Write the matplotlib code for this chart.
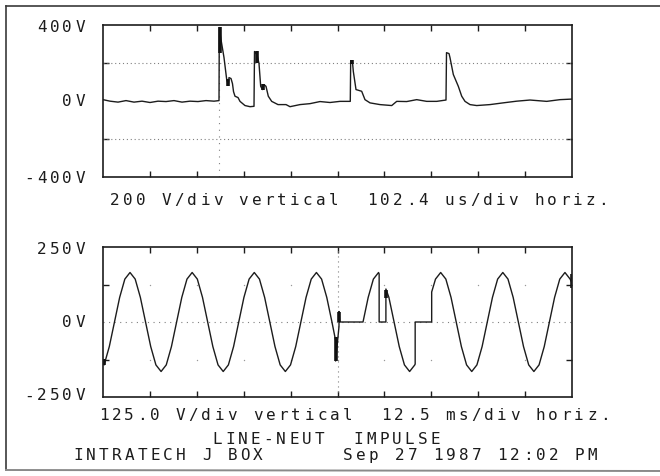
import numpy as np
import matplotlib.pyplot as plt

# Upper record: impulse trace, 102.4 us/div horizontal, 200 V/div vertical
imp_t = [0, 15.3, 32.8, 50.2, 67.7, 85.2, 102.6, 120.1, 137.6, 155.0,
         172.5, 190.0, 207.4, 224.9, 242.4, 253.3, 253.9, 257.6, 262.0, 264.2,
         270.1, 273.6, 275.1, 279.5, 282.7, 285.0, 288.2, 294.8, 299.1, 310.0,
         321.0, 329.7, 330.8, 336.2, 340.6, 344.3, 348.3, 351.5, 355.9, 360.9,
         368.3, 382.1, 399.6, 408.3, 430.1, 452.0, 473.8, 495.6, 517.5, 539.9,
         540.8, 544.8, 546.5, 552.4, 564.8, 572.0, 583.0, 604.8, 630.4, 641.3,
         663.1, 684.9, 706.8, 728.6, 748.9, 750.0, 755.5, 757.6, 764.9, 775.8,
         783.2, 790.4, 801.3, 815.9, 845.0, 873.4, 903.3, 932.3, 968.8, 997.8,
         1024.0]
imp_v = [5, -3, -8, 0, -8, -3, -10, -3, -5, 0,
         -8, -3, -5, 0, -3, 0, 384, 321, 258, 226,
         110, 84, 121, 116, 89, 47, 23, 16, -4, -26,
         -32, -30, 258, 242, 195, 75, 58, 84, 75, 23,
         -4, -21, -21, -32, -21, -16, -5, -10, -4, -4,
         210, 200, 154, 58, 49, 5, -12, -21, -26, -4,
         -5, 5, -4, -4, 3, 252, 247, 226, 137, 75,
         23, -4, -21, -26, -21, -12, -3, 3, -4, 5,
         8]
# dense bursts the recorder printed as heavy strokes (time, low, high)
imp_burst_t = [256, 272, 337, 350, 543]
imp_burst_lo = [250, 75, 200, 55, 195]
imp_burst_hi = [385, 115, 262, 85, 212]
trig_us = 254

# Lower record: line voltage, 12.5 ms/div horizontal, 125 V/div vertical
line_t = [0, 0.30, 1.68, 3.06, 4.44, 5.82, 7.20, 8.58, 9.96, 11.34,
          12.72, 14.10, 15.48, 16.86, 18.24, 19.62, 21.00, 22.38, 23.76, 25.14,
          26.52, 27.90, 29.28, 30.66, 32.04, 33.42, 34.80, 36.18, 37.56, 38.94,
          40.32, 41.70, 43.08, 44.46, 45.84, 47.22, 48.60, 49.98, 51.36, 52.74,
          54.12, 55.50, 56.88, 58.26, 59.64, 61.02,
          62.00, 62.00, 62.90, 62.90, 63.10, 69.30, 70.68, 72.06, 73.44, 73.60,
          73.60, 75.40, 75.40, 76.20, 77.58, 78.96, 80.34, 81.72, 83.10, 83.20,
          83.20, 87.60, 87.60, 88.62, 90.00, 91.38, 92.76, 94.14, 95.52, 96.90,
          98.28, 99.66, 101.04, 102.42, 103.80, 105.18, 106.56, 107.94, 109.32, 110.70,
          112.08, 113.46, 114.84, 116.22, 117.60, 118.98, 120.36, 121.74, 123.12, 124.50,
          125.0]
line_v = [-135, -143, -82, 0, 82, 143, 165, 143, 82, 0,
          -82, -143, -165, -143, -82, 0, 82, 143, 165, 143,
          82, 0, -82, -143, -165, -143, -82, 0, 82, 143,
          165, 143, 82, 0, -82, -143, -165, -143, -82, 0,
          82, 143, 165, 143, 82, 0,
          -62, -130, -15, 35, 0, 0, 82, 143, 165, 160,
          0, 0, 110, 82, 0, -82, -143, -165, -143, -140,
          0, 0, 100, 143, 165, 143, 82, 0, -82, -143,
          -165, -143, -82, 0, 82, 143, 165, 143, 82, 0,
          -82, -143, -165, -143, -82, 0, 82, 143, 165, 143,
          130]
line_burst_t = [0.15, 62.0, 62.9, 75.5, 124.9]
line_burst_lo = [-142, -130, 0, 80, 115]
line_burst_hi = [-122, -50, 35, 108, 160]

W, H = 660, 476
CELL = 12.85  # printer character pitch in px
INK = "#1c1c1c"


def box(left, top, right, bottom):
    return [left / W, 1 - bottom / H, (right - left) / W, (bottom - top) / H]


def put(fig, s, x0, base, right=False):
    # fixed-pitch printer text, one character per cell
    if right:
        x0 = x0 - len(s) * CELL
    for i, ch in enumerate(s):
        if ch == " ":
            continue
        fig.text((x0 + (i + 0.5) * CELL) / W, 1 - base / H, ch,
                 ha="center", va="baseline", fontsize=11.5,
                 family="DejaVu Sans Mono", color=INK)


def scope_axes(ax):
    for sp in ax.spines.values():
        sp.set_linewidth(1.2)
        sp.set_color(INK)
    ax.tick_params(direction="in", length=4, width=1, color=INK,
                   top=True, right=True, labelbottom=False, labelleft=False)


fig = plt.figure(figsize=(W / 100, H / 100), dpi=100)
dots = dict(color="#808080", lw=0.8)

# upper panel
ax1 = fig.add_axes(box(103, 24.5, 572, 176.7))
ax1.set_xlim(0, 1024)
ax1.set_ylim(-400, 400)
ax1.set_xticks(np.arange(1, 10) * 102.4)
ax1.set_yticks([-200, 200])
scope_axes(ax1)
for lvl in (-200, 200):
    ax1.axhline(lvl, ls=(0, (1, 2.5)), **dots)
ax1.axvline(trig_us, ls=(0, (1, 5)), **dots)
ax1.plot(imp_t, imp_v, color=INK, lw=1.0)
ax1.vlines(imp_burst_t, imp_burst_lo, imp_burst_hi, color="#111", lw=2.6)

# lower panel
ax2 = fig.add_axes(box(103, 247, 572, 397))
ax2.set_xlim(0, 125)
ax2.set_ylim(-250, 250)
ax2.set_xticks(np.arange(1, 10) * 12.5)
ax2.set_yticks([-125, 125])
scope_axes(ax2)
ax2.axhline(0, ls=(0, (1, 4)), **dots)
ax2.axvline(62.5, ls=(0, (1, 3.5)), **dots)
gx, gy = np.meshgrid(np.arange(1, 10) * 12.5, [-125, 125])
ax2.plot(gx.ravel(), gy.ravel(), ls="", marker="o", ms=1.0, mew=0, color="#999999")
ax2.plot(line_t, line_v, color=INK, lw=1.0)
ax2.vlines(line_burst_t, line_burst_lo, line_burst_hi, color="#111", lw=2.6)

# scale labels
put(fig, "400V", 86.5, 32, right=True)
put(fig, "0V", 86.5, 105.5, right=True)
put(fig, "-400V", 86.5, 183, right=True)
put(fig, "200 V/div vertical  102.4 us/div horiz.", 108.6, 205)
put(fig, "250V", 86.5, 253.5, right=True)
put(fig, "0V", 86.5, 327, right=True)
put(fig, "-250V", 86.5, 400.5, right=True)
put(fig, "125.0 V/div vertical  12.5 ms/div horiz.", 97, 420)
put(fig, "LINE-NEUT  IMPULSE", 210.5, 443.5)
put(fig, "INTRATECH J BOX", 71.6, 460)
put(fig, "Sep 27 1987 12:02 PM", 341.6, 460)

# printout border
frame = dict(color="#3a3a3a", lw=1.2, transform=fig.transFigure)
fig.add_artist(plt.Line2D([6 / W, 1], [1 - 6 / H, 1 - 6 / H], **frame))
fig.add_artist(plt.Line2D([6 / W, 6 / W], [1 - 6 / H, 1 - 470 / H], **frame))
fig.add_artist(plt.Line2D([6 / W, 1], [1 - 470 / H, 1 - 471 / H],
                          color="#8a8a8a", lw=1.4, transform=fig.transFigure))

fig.savefig("out.png", dpi=100, facecolor="white")
